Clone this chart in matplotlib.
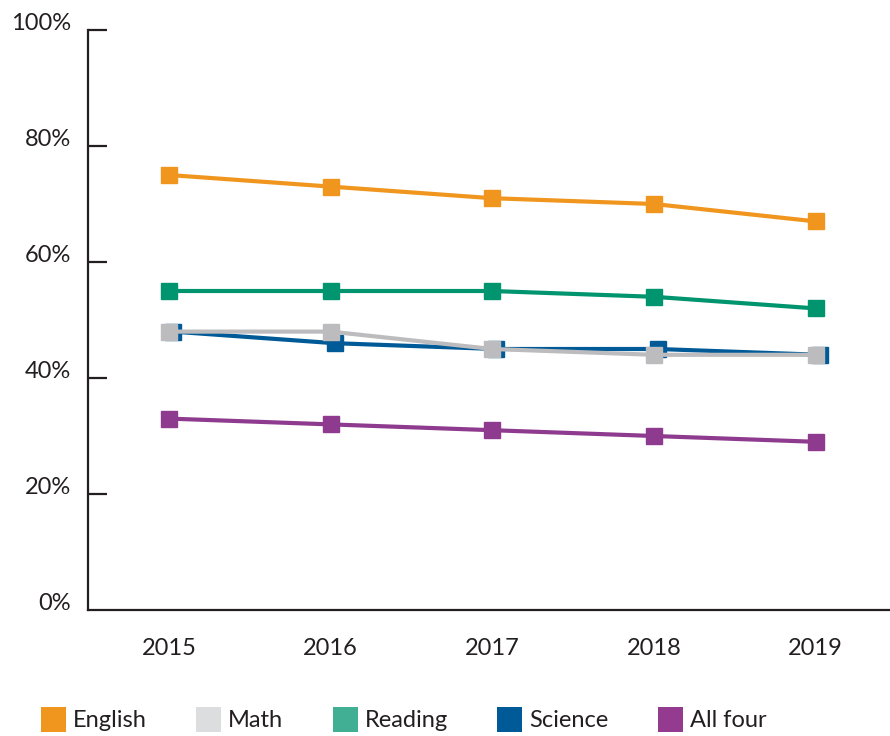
import matplotlib.pyplot as plt
import matplotlib.transforms as mtransforms
from matplotlib.lines import Line2D

plt.rcParams['font.family'] = ['Lato', 'DejaVu Sans']

# data
years = [2015, 2016, 2017, 2018, 2019]
english = [75, 73, 71, 70, 67]
reading = [55, 55, 55, 54, 52]
science = [48, 46, 45, 45, 44]
math = [48, 48, 45, 44, 44]
all_four = [33, 32, 31, 30, 29]

y_ticks = [0, 20, 40, 60, 80, 100]
y_tick_labels = ['0%', '20%', '40%', '60%', '80%', '100%']

fig = plt.figure(figsize=(8.9, 7.36), dpi=100)
ax = fig.add_axes([88 / 890, 126 / 736, 1 - 88 / 890, 580 / 736])

line_style = dict(linewidth=3, marker='s', markersize=11.5)

ax.plot(years, english, color='#F0961F', zorder=3, **line_style)
ax.plot(years, reading, color='#00956F', zorder=3, **line_style)
# science is drawn slightly right of math, peeking out behind it
sci_shift = mtransforms.offset_copy(ax.transData, fig=fig, x=4, y=0, units='dots')
ax.plot(years, science, color='#005A97', zorder=3, transform=sci_shift, **line_style)
ax.plot(years, math, color='#BCBCBF', zorder=4, **line_style)
ax.plot(years, all_four, color='#8E3B8F', zorder=3, **line_style)

ax.set_xlim(2014.5, 2019.46)
ax.set_ylim(0, 100)

ax.set_xticks(years)
ax.set_xticklabels([str(y) for y in years])
ax.set_yticks(y_ticks)
ax.set_yticklabels(y_tick_labels, va='baseline')

for side in ['top', 'right']:
    ax.spines[side].set_visible(False)
for side in ['left', 'bottom']:
    ax.spines[side].set_linewidth(1.6)
    ax.spines[side].set_color('#231F20')

ax.tick_params(axis='y', direction='in', length=14, width=1.6, color='#231F20',
               labelsize=17, labelcolor='#231F20', pad=12)
ax.tick_params(axis='x', length=0, labelsize=17, labelcolor='#231F20', pad=20)
ax.yaxis.get_major_ticks()[0].tick1line.set_visible(False)

# legend with flat square swatches (lighter tones for math and reading, like the original)
legend_names = ['English', 'Math', 'Reading', 'Science', 'All four']
legend_colors = ['#F0961F', '#DCDDDF', '#40AF94', '#005A97', '#943B90']
handles = [Line2D([], [], linestyle='none', marker='s', markersize=18,
                  markerfacecolor=c, markeredgewidth=0) for c in legend_colors]
fig.legend(handles, legend_names, loc='lower left', bbox_to_anchor=(0.022, -0.022),
           ncol=5, frameon=False, fontsize=17, handlelength=1.0, handletextpad=0.35,
           columnspacing=2.1, labelcolor='#231F20')

plt.savefig('out.png', dpi=100)
